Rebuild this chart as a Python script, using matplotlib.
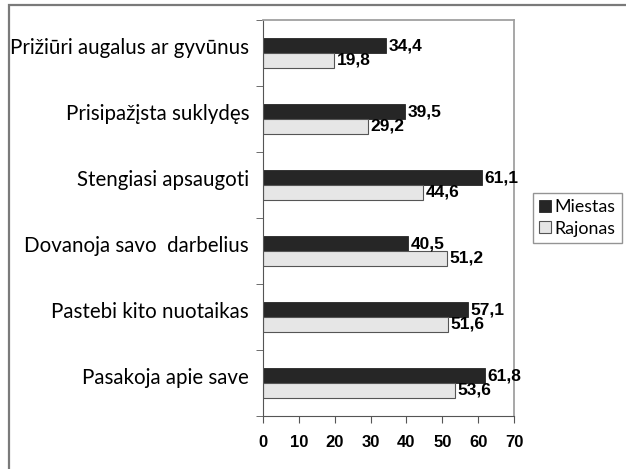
import matplotlib
matplotlib.use("Agg")
import numpy as np
from matplotlib import pyplot as plt
from matplotlib.patches import Rectangle

categories = ["Pasakoja apie save", "Pastebi kito nuotaikas", "Dovanoja savo  darbelius",
              "Stengiasi apsaugoti", "Prisipažįsta suklydęs", "Prižiūri augalus ar gyvūnus"]
miestas = [61.8, 57.1, 40.5, 61.1, 39.5, 34.4]
rajonas = [53.6, 51.6, 51.2, 44.6, 29.2, 19.8]
xticks = [0, 10, 20, 30, 40, 50, 60, 70]

W, H = 626, 469
fig = plt.figure(figsize=(W / 100, H / 100), dpi=100)
fig.patch.set_facecolor("white")

# outer frame (only left/top edges visible in the original)
fig.patches.append(Rectangle((9 / W, -0.05), 1.2, 1 - 5 / H + 0.05, transform=fig.transFigure,
                             fill=False, edgecolor="#7a7a7a", linewidth=1.6))

ax = fig.add_axes([263 / W, 1 - 416 / H, (514 - 263) / W, (416 - 20) / H])

ind = np.arange(len(categories))
h = 0.22
ax.barh(ind, miestas, h, color="#262626", edgecolor="#262626", linewidth=0.6)
ax.barh(ind - h, rajonas, h, color="#e6e6e6", edgecolor="#555555", linewidth=0.8)

for i in ind:
    ax.text(miestas[i] + 0.7, i, f"{miestas[i]:.1f}".replace(".", ","), va="center", ha="left",
            fontsize=12.5, fontweight="bold", family="Liberation Sans")
    ax.text(rajonas[i] + 0.7, i - h, f"{rajonas[i]:.1f}".replace(".", ","), va="center", ha="left",
            fontsize=12.5, fontweight="bold", family="Liberation Sans")

ax.set_xlim(0, 70)
ax.set_ylim(-0.61, 5.39)
ax.set_xticks(xticks)
ax.set_xticklabels([str(t) for t in xticks], fontsize=12, fontweight="bold", family="Liberation Sans")
ax.set_yticks(ind)
ax.set_yticklabels(categories, fontsize=14.8, family="Lato")
ax.tick_params(axis="y", length=0, pad=10)
ax.set_yticks(np.arange(-0.61, 5.4, 1.0), minor=True)
ax.tick_params(axis="y", which="minor", length=5, color="#555555")
ax.tick_params(axis="x", length=5, color="#555555", pad=9)

for s in ["left", "bottom"]:
    ax.spines[s].set_color("#555555")
for s in ["top", "right"]:
    ax.spines[s].set_color("#a0a0a0")
    ax.spines[s].set_linewidth(1.3)

leg = ax.legend(["Miestas", "Rajonas"], loc="upper left", bbox_to_anchor=(533 / W, 1 - 193 / H),
                bbox_transform=fig.transFigure, prop={"family": "Lato", "size": 12.8},
                frameon=True, fancybox=False, handlelength=0.65, handleheight=0.65,
                handletextpad=0.2, borderpad=0.35, labelspacing=0.3, borderaxespad=0)
leg.get_frame().set_edgecolor("#7a7a7a")
leg.get_frame().set_linewidth(1.0)

fig.savefig("out.png", dpi=100)
